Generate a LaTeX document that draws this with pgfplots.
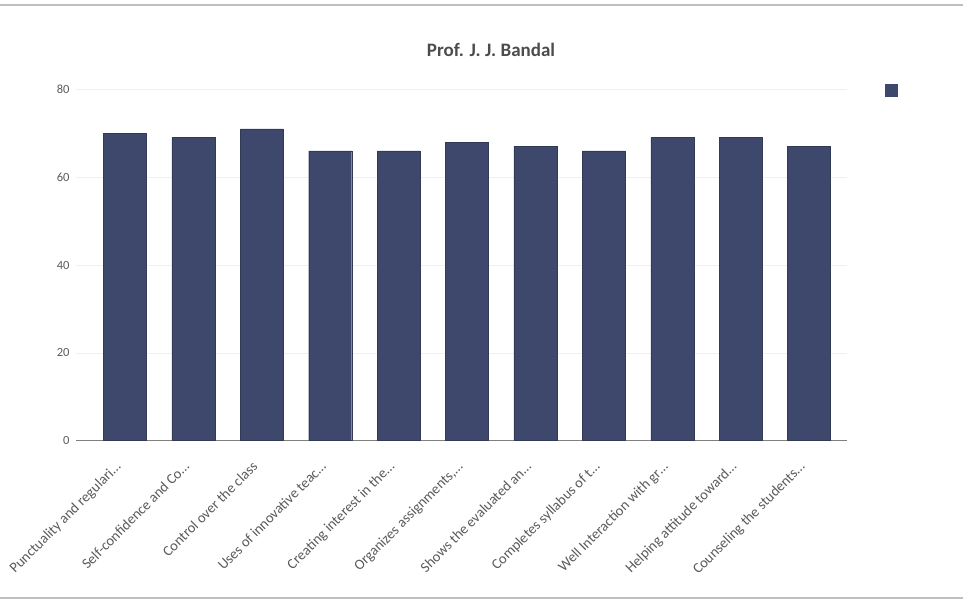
\documentclass[border=0pt]{standalone}
\usepackage{pgfplots}
\pgfplotsset{compat=1.18}
\usepackage{fontspec}
\setmainfont{Carlito}
\definecolor{barc}{RGB}{62,72,108}
\definecolor{txt}{RGB}{90,90,90}
\begin{document}
\begin{tikzpicture}[x=1pt,y=1pt]
\path[use as bounding box] (0,0) rectangle (963,604);
\draw[black!25, line width=2pt] (0,599) -- (963,599);
\draw[black!25, line width=2pt] (0,6) -- (963,6);
\begin{axis}[
  at={(76pt,163.3pt)}, anchor=south west,
  scale only axis, width=770.7pt, height=351.4pt,
  xmin=-0.716, xmax=10.55, ymin=0, ymax=80,
  ytick={0,20,40,60,80},
  xtick={0,...,10},
  xticklabels={{Punctuality and regulari…},{Self-confidence and Co…},{Control over the class},{Uses of innovative teac…},{Creating interest in the…},{Organizes assignments,…},{Shows the evaluated an…},{Completes syllabus of t…},{Well Interaction with gr…},{Helping attitude toward…},{Counseling the students…}},
  axis lines*=left,
  x axis line style={black!50, line width=1pt},
  y axis line style={draw=none},
  major tick length=0pt,
  ymajorgrids, grid style={black!6, line width=0.6pt},
  xticklabel style={rotate=45, anchor=north east, font=\fontsize{14.5}{16}\selectfont, text=txt, xshift=-18pt, yshift=-3pt},
  yticklabel style={font=\fontsize{12.5}{15}\selectfont, text=txt, xshift=-3pt},
  /pgf/number format/assume math mode=true,
  legend style={draw=none, fill=none, at={(rel axis cs:1.06,0.997)}, anchor=center},
  legend image code/.code={\fill[barc] (0pt,-6pt) rectangle (12pt,6pt);},
]
\addplot[ybar, bar width=43pt, fill=barc, draw=barc!80!black] coordinates {
(0,70) (1,69) (2,71) (3,66) (4,66) (5,68) (6,67) (7,66) (8,69) (9,69) (10,67)};
\addlegendentry{}
\end{axis}
\node[font=\bfseries\fontsize{19}{22}\selectfont, text=black!70] at (491,554) {Prof. J. J. Bandal};
\end{tikzpicture}
\end{document}
